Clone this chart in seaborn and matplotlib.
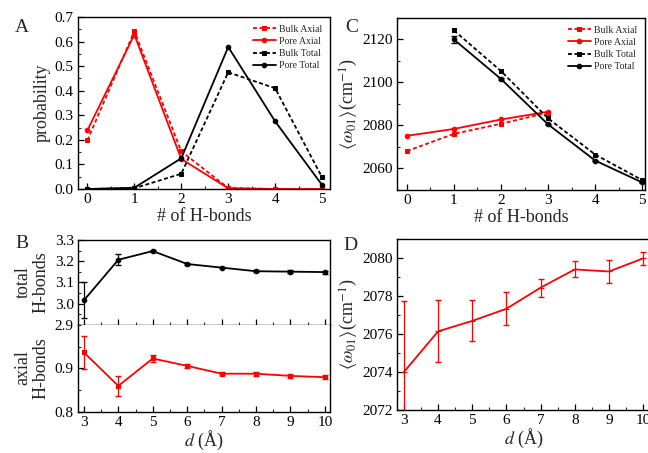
import numpy as np
import pandas as pd
import matplotlib
matplotlib.use("Agg")
import matplotlib.pyplot as plt
import seaborn as sns
from matplotlib.ticker import MultipleLocator, FormatStrFormatter

# ---------------- data ----------------
nhb = [0, 1, 2, 3, 4, 5]
probA_bulk_axial = [0.198, 0.642, 0.153, 0.004, 0.0, 0.0]
probA_pore_axial = [0.239, 0.628, 0.122, 0.003, 0.0, 0.0]
probA_bulk_total = [0.0, 0.003, 0.062, 0.475, 0.410, 0.047]
probA_pore_total = [0.0, 0.005, 0.125, 0.578, 0.275, 0.016]

nhb_axial_C = [0, 1, 2, 3]
freqC_bulk_axial = [2068.1, 2076.1, 2080.8, 2086.0]
freqC_pore_axial = [2075.2, 2078.4, 2082.8, 2086.4]
nhb_total_C = [1, 2, 3, 4, 5]
freqC_bulk_total = [2124.2, 2105.3, 2083.3, 2066.5, 2054.6]
freqC_pore_total = [2120.0, 2101.6, 2080.5, 2063.7, 2053.5]
freqC_pore_total_err = [1.8, 0.5, 0.4, 0.4, 0.4]

d_vals = [3, 4, 5, 6, 7, 8, 9, 10]
B_total = [3.016, 3.207, 3.248, 3.187, 3.170, 3.153, 3.151, 3.149]
B_total_err = [0.085, 0.027, 0.005, 0.005, 0.004, 0.004, 0.006, 0.007]
B_axial = [0.937, 0.860, 0.923, 0.906, 0.888, 0.888, 0.883, 0.880]
B_axial_err = [0.038, 0.023, 0.009, 0.005, 0.004, 0.005, 0.004, 0.005]

D_freq = [2074.0, 2076.14, 2076.69, 2077.33, 2078.44, 2079.40, 2079.29, 2079.98]
D_err = [3.72, 1.63, 1.08, 0.87, 0.48, 0.42, 0.60, 0.35]

legend_labels = ["Bulk Axial", "Pore Axial", "Bulk Total", "Pore Total"]

# ---------------- style ----------------
sns.set_theme(style="ticks")
plt.rcParams["font.family"] = ["Liberation Serif", "DejaVu Serif"]
plt.rcParams["mathtext.fontset"] = "stix"
plt.rcParams["xtick.direction"] = "in"
plt.rcParams["ytick.direction"] = "in"
plt.rcParams["axes.linewidth"] = 1.0
plt.rcParams["axes.edgecolor"] = "black"

RED = "#ff0000"
BLK = "#000000"
TICK_FS = 11
LAB_FS = 13
lw = 1.3
ms = 3.3
DASH = (0, (2.2, 1.4))

fig = plt.figure(figsize=(6.48, 4.53), dpi=100)

axA = fig.add_axes([0.1204, 0.5828, 0.389, 0.3797])
axC = fig.add_axes([0.6127, 0.5806, 0.3827, 0.3797])
axB1 = fig.add_axes([0.1204, 0.2826, 0.389, 0.1876])
axB2 = fig.add_axes([0.1204, 0.0905, 0.389, 0.1921])
axD = fig.add_axes([0.6127, 0.0949, 0.3904, 0.3775])


def style_ax(ax):
    for s in ax.spines.values():
        s.set_color("black")
        s.set_linewidth(1.0)
    ax.tick_params(which="major", length=4, width=0.9, labelsize=TICK_FS,
                   colors="black", pad=3)
    ax.tick_params(which="minor", length=2.2, width=0.8)
    ax.tick_params(top=False, right=False, which="both")


def draw(ax, x, y, color, ls, marker, label):
    sns.lineplot(x=x, y=y, ax=ax, color=color, linestyle=ls, marker=marker,
                 markersize=ms, markeredgecolor=color, linewidth=lw,
                 label=label, legend=False)


leg_kw = dict(loc="upper right", frameon=False, fontsize=7, handlelength=2.4,
              handletextpad=0.3, labelspacing=0.32, borderaxespad=0.4)

# ---------------- Panel A ----------------
draw(axA, nhb, probA_bulk_axial, RED, DASH, "s", legend_labels[0])
draw(axA, nhb, probA_pore_axial, RED, "-", "o", legend_labels[1])
draw(axA, nhb, probA_bulk_total, BLK, DASH, "s", legend_labels[2])
draw(axA, nhb, probA_pore_total, BLK, "-", "o", legend_labels[3])
axA.set_xlim(-0.2, 5.17)
axA.set_ylim(0, 0.7)
axA.xaxis.set_major_locator(MultipleLocator(1))
axA.xaxis.set_minor_locator(MultipleLocator(0.5))
axA.yaxis.set_major_locator(MultipleLocator(0.1))
axA.yaxis.set_minor_locator(MultipleLocator(0.05))
axA.yaxis.set_major_formatter(FormatStrFormatter("%.1f"))
axA.set_xlabel("# of H-bonds", fontsize=LAB_FS, labelpad=1)
axA.set_ylabel("probability", fontsize=LAB_FS, labelpad=3)
style_ax(axA)
axA.legend(**leg_kw)

# ---------------- Panel C ----------------
draw(axC, nhb_axial_C, freqC_bulk_axial, RED, DASH, "s", legend_labels[0])
draw(axC, nhb_axial_C, freqC_pore_axial, RED, "-", "o", legend_labels[1])
draw(axC, nhb_total_C, freqC_bulk_total, BLK, DASH, "s", legend_labels[2])
draw(axC, nhb_total_C, freqC_pore_total, BLK, "-", "o", legend_labels[3])
axC.errorbar(nhb_total_C, freqC_pore_total, yerr=freqC_pore_total_err, fmt="none",
             ecolor=BLK, elinewidth=0.9, capsize=2)
axC.set_xlim(-0.21, 5.06)
axC.set_ylim(2050, 2130)
axC.xaxis.set_major_locator(MultipleLocator(1))
axC.xaxis.set_minor_locator(MultipleLocator(0.5))
axC.yaxis.set_major_locator(MultipleLocator(20))
axC.yaxis.set_minor_locator(MultipleLocator(10))
axC.set_xlabel("# of H-bonds", fontsize=LAB_FS, labelpad=1)
axC.set_ylabel(r"$\langle\omega_{01}\rangle$(cm$^{-1}$)", fontsize=LAB_FS, labelpad=2)
style_ax(axC)
axC.legend(**leg_kw)

# ---------------- Panel B ----------------
sns.lineplot(x=d_vals, y=B_total, ax=axB1, color=BLK, marker="o", markersize=3.3,
             markeredgecolor=BLK, linewidth=lw)
axB1.errorbar(d_vals, B_total, yerr=B_total_err, fmt="none", ecolor=BLK,
              elinewidth=0.9, capsize=2)
axB1.set_xlim(2.83, 10.15)
axB1.set_ylim(2.9, 3.3)
axB1.xaxis.set_major_locator(MultipleLocator(1))
axB1.xaxis.set_minor_locator(MultipleLocator(0.5))
axB1.yaxis.set_major_locator(MultipleLocator(0.1))
axB1.yaxis.set_minor_locator(MultipleLocator(0.05))
axB1.yaxis.set_major_formatter(FormatStrFormatter("%.1f"))
axB1.set_ylabel("")
axB1.set_xlabel("")
style_ax(axB1)
axB1.tick_params(labelbottom=False)

sns.lineplot(x=d_vals, y=B_axial, ax=axB2, color=RED, marker="s", markersize=3.3,
             markeredgecolor=RED, linewidth=lw)
axB2.errorbar(d_vals, B_axial, yerr=B_axial_err, fmt="none", ecolor=RED,
              elinewidth=0.9, capsize=2)
axB2.set_xlim(2.83, 10.15)
axB2.set_ylim(0.8, 1.0)
axB2.set_yticks([0.8, 0.9])
axB2.yaxis.set_minor_locator(MultipleLocator(0.05))
axB2.yaxis.set_major_formatter(FormatStrFormatter("%.1f"))
axB2.xaxis.set_major_locator(MultipleLocator(1))
axB2.xaxis.set_minor_locator(MultipleLocator(0.5))
axB2.set_xlabel(r"$d$ (Å)", fontsize=LAB_FS, labelpad=0)
axB2.set_ylabel("")
style_ax(axB2)
axB2.spines["top"].set_visible(False)

# B y-labels (two-line, centred)
fig.text(32 / 648, 1 - 282 / 453, "total\nH-bonds", fontsize=LAB_FS, rotation=90,
         ha="center", va="center", multialignment="center", linespacing=1.05)
fig.text(32 / 648, 1 - 368 / 453, "axial\nH-bonds", fontsize=LAB_FS, rotation=90,
         ha="center", va="center", multialignment="center", linespacing=1.05)

# ---------------- Panel D ----------------
sns.lineplot(x=d_vals, y=D_freq, ax=axD, color=RED, marker="_", markersize=4,
             markeredgecolor=RED, linewidth=lw)
axD.errorbar(d_vals, D_freq, yerr=D_err, fmt="none", ecolor=RED,
             elinewidth=0.9, capsize=2)
axD.set_xlim(2.8, 10.2)
axD.set_ylim(2072, 2081)
axD.xaxis.set_major_locator(MultipleLocator(1))
axD.xaxis.set_minor_locator(MultipleLocator(0.5))
axD.yaxis.set_major_locator(MultipleLocator(2))
axD.yaxis.set_minor_locator(MultipleLocator(1))
axD.set_xlabel(r"$d$ (Å)", fontsize=LAB_FS, labelpad=0)
axD.set_ylabel(r"$\langle\omega_{01}\rangle$(cm$^{-1}$)", fontsize=LAB_FS, labelpad=2)
style_ax(axD)

# ---------------- panel letters ----------------
fig.text(15 / 648, 1 - 27 / 453, "A", fontsize=14, va="center", ha="left")
fig.text(345 / 648, 1 - 27 / 453, "C", fontsize=14, va="center", ha="left")
fig.text(15 / 648, 1 - 244 / 453, "B", fontsize=14, va="center", ha="left")
fig.text(343 / 648, 1 - 245 / 453, "D", fontsize=14, va="center", ha="left")

fig.savefig("out.png", dpi=100)
